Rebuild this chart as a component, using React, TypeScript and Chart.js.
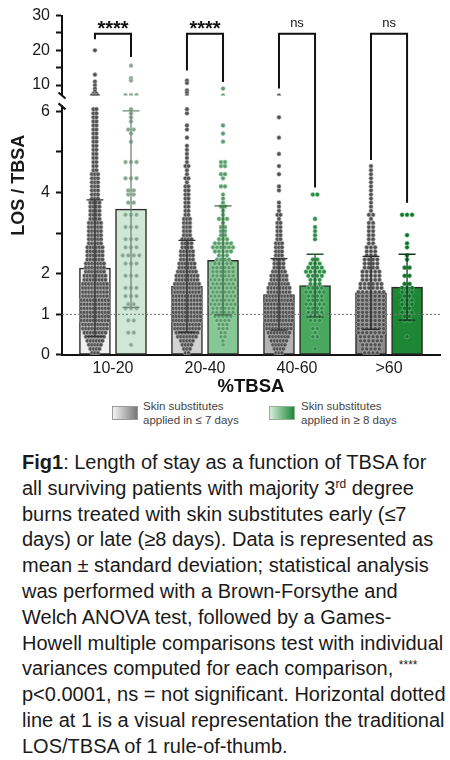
import React, { useEffect, useRef } from 'react';
import { Chart, registerables } from 'chart.js';

Chart.register(...registerables);

const FONT = '"Liberation Sans", Arial, Helvetica, sans-serif';

// ---------------- DATA ----------------
const categories = ['10-20', '20-40', '40-60', '>60'];
const seriesNames = ['Skin substitutes\napplied in \u2264 7 days', 'Skin substitutes\napplied in \u2265 8 days'];

const greyMeans = [2.14, 1.69, 1.49, 1.53];
const greySD = [1.68, 1.13, 0.88, 0.9];
const greenMeans = [3.59, 2.33, 1.71, 1.67];
const greenSD = [2.42, 1.34, 0.77, 0.81];

// individual points on the lower segment: number of points per 0.1-wide row (row i = value (i+0.5)/10)
const grey1020Counts = [
  3, 4, 5, 6, 7, 8, 9, 9, 10, 10,
  10, 10, 10, 10, 9, 9, 9, 9, 8, 8,
  7, 7, 7, 6, 6, 6, 6, 5, 5, 5,
  5, 5, 5, 4, 4, 4, 4, 4, 3, 3,
  3, 3, 3, 3, 3, 2, 2, 2, 2, 2,
  2, 2, 2, 2, 2, 2, 2, 2, 2, 2,
  2,
];
const grey2040Counts = [
  2, 3, 4, 5, 7, 8, 9, 9, 10, 10,
  10, 10, 10, 10, 10, 9, 9, 9, 8, 8,
  7, 6, 6, 5, 5, 5, 4, 4, 4, 3,
  3, 3, 3, 3, 2, 2, 2, 2, 2, 2,
  2, 2, 1, 2, 1, 1, 2, 1, 1, 1,
  1, 1, 0, 1, 0, 1, 1, 0, 0, 1,
  1,
];
const grey4060Counts = [
  3, 4, 5, 6, 7, 8, 9, 9, 10, 10,
  10, 10, 10, 9, 9, 8, 8, 7, 6, 6,
  5, 4, 4, 4, 3, 3, 3, 3, 2, 2,
  2, 2, 2, 1, 2, 1, 1, 1, 0, 0,
  1, 1, 0, 0, 1, 0, 1, 0, 0, 1,
  0, 0, 0, 1, 0, 0, 0, 0, 1, 0,
  0,
];
const grey60Counts = [
  4, 5, 5, 6, 6, 7, 7, 7, 7, 7,
  7, 7, 7, 7, 7, 7, 6, 6, 5, 5,
  5, 4, 4, 4, 3, 3, 3, 2, 2, 2,
  2, 2, 2, 1, 2, 1, 1, 1, 1, 1,
  1, 1, 1, 1, 1, 1, 1, 0, 0, 0,
  0, 0, 0, 0, 0, 0, 0, 0, 0, 0,
  0,
];
const green1020Counts = [
  0, 0, 1, 0, 0, 2, 0, 0, 2, 0,
  0, 3, 2, 0, 3, 0, 3, 0, 0, 3,
  0, 0, 3, 0, 4, 0, 3, 0, 3, 0,
  0, 3, 0, 0, 3, 0, 0, 2, 0, 2,
  2, 0, 0, 3, 0, 0, 0, 3, 0, 0,
  0, 0, 1, 0, 1, 2, 0, 1, 1, 1,
  1,
];
const green2040Counts = [
  0, 0, 1, 1, 2, 2, 3, 3, 4, 5,
  6, 6, 7, 6, 7, 6, 7, 6, 7, 6,
  6, 6, 5, 4, 3, 5, 6, 5, 3, 2,
  2, 2, 1, 3, 1, 1, 2, 1, 1, 1,
  0, 2, 0, 1, 2, 0, 2, 2, 0, 0,
  0, 0, 1, 0, 1, 0, 1, 0, 0, 0,
  0,
];
const green4060Counts = [
  0, 1, 0, 0, 2, 1, 2, 0, 3, 3,
  4, 4, 5, 4, 4, 5, 4, 3, 3, 4,
  5, 4, 3, 2, 0, 0, 0, 0, 1, 1,
  1, 1, 0, 1, 0, 0, 0, 0, 0, 2,
  0, 0, 0, 0, 0, 0, 0, 0, 0, 0,
  0, 0, 0, 0, 0, 0, 0, 0, 0, 0,
  0,
];
const green60Counts = [
  0, 0, 0, 0, 1, 0, 0, 0, 2, 2,
  3, 2, 3, 3, 2, 3, 3, 2, 0, 2,
  0, 2, 0, 1, 1, 0, 1, 1, 0, 1,
  0, 0, 0, 0, 3, 0, 0, 0, 0, 0,
  0, 0, 0, 0, 0, 0, 0, 0, 0, 0,
  0, 0, 0, 0, 0, 0, 0, 0, 0, 0,
  0,
];

// individual points on the upper segment (values)
const grey1020High = [20, 13, 11, 10, 9, 8.2, 7.5, 7.5, 7, 7, 7];
const green1020High = [15.6, 12, 11.3, 7.1, 7.1, 7.1];
const grey2040High = [11.3, 10.6, 8.5, 7.8, 7];
const green2040High = [9, 7];
const grey4060High = [7];
const green4060High: number[] = [];
const grey60High: number[] = [];
const green60High: number[] = [];

const lowTicks = [0, 1, 2, 3, 4, 5, 6];
const lowTickLabels = [0, 1, 2, 4, 6];
const highTicks = [10, 15, 20, 25, 30];
const highTickLabels = [10, 20, 30];

const sigLabels = ['****', '****', 'ns', 'ns'];
const bracketTop = 24.8;
const bracketLeftEnd = [23.2, 14.2, 9.0, 4.8];
const bracketRightEnd = [18.1, 10.9, 4.12, 3.75];
const refLineValue = 1;

const captionLines: React.ReactNode[] = [
  <><b>Fig1</b>: Length of stay as a function of TBSA for</>,
  <>all surviving patients with majority 3<sup style={{ fontSize: '0.6em', verticalAlign: '0.6em', lineHeight: 0 }}>rd</sup> degree</>,
  <>burns treated with skin substitutes early (&le;7</>,
  <>days) or late (&ge;8 days). Data is represented as</>,
  <>mean &plusmn; standard deviation; statistical analysis</>,
  <>was performed with a Brown-Forsythe and</>,
  <>Welch ANOVA test, followed by a Games-</>,
  <>Howell multiple comparisons test with individual</>,
  <>variances computed for each comparison, <sup style={{ fontSize: '0.6em', verticalAlign: '0.5em', lineHeight: 0 }}>****</sup></>,
  <>p&lt;0.0001, ns = not significant. Horizontal dotted</>,
  <>line at 1 is a visual representation the traditional</>,
  <>LOS/TBSA of 1 rule-of-thumb.</>,
];

// ---------------- STYLE ----------------
const X_MIN = -0.554;
const X_MAX = 3.554;
const SIDE = 0.196;
const PX_PER_GROUP = 92;
const greySpreadPx = [3, 3, 3, 4.2];
const greenSpreadPx = [5.5, 4, 4.5, 5];
const greyBarFill = ['#f0f0f0', '#d3d3d3', '#b3b3b3', '#8b8b8b'];
const greenBarFill = ['#cfe8d5', '#86c796', '#49a75e', '#1d8736'];
const greyPointFill = '#515151';
const greyPointEdge = '#b4b4b4';
const greenPointFill = ['#88a490', '#5a9c69', '#2e8846', '#146d2a'];
const greenPointEdge = ['#c3d8c8', '#a8d5b3', '#8acd9b', '#6ac281'];
const greyErrColor = ['#333333', '#333333', '#333333', '#2a2a2a'];
const greenErrColor = ['#6d8c75', '#3d6b48', '#28522f', '#17361f'];

type Pt = { x: number; y: number };

function swarmFromCounts(counts: number[], center: number, spread: number): Pt[] {
  const pts: Pt[] = [];
  counts.forEach((n, i) => {
    const v = (i + 0.5) / 10;
    for (let k = 0; k < n; k++) pts.push({ x: center + (k - (n - 1) / 2) * spread, y: v });
  });
  return pts;
}

function swarmFromValues(values: number[], center: number, spread: number): Pt[] {
  const rows = new Map<number, number>();
  values.forEach((v) => rows.set(v, (rows.get(v) || 0) + 1));
  const pts: Pt[] = [];
  rows.forEach((n, v) => {
    for (let k = 0; k < n; k++) pts.push({ x: center + (k - (n - 1) / 2) * spread, y: v });
  });
  return pts;
}

const overlayPlugin = {
  id: 'overlay',
  afterDatasetsDraw(chart: any) {
    const { ctx, scales } = chart;
    const xs = scales.x;
    const yl = scales.yLow;
    const yh = scales.yHigh;
    const yAt = (v: number) => (v > yl.max ? yh.getPixelForValue(v) : yl.getPixelForValue(v));
    ctx.save();
    const capHalf = 8.5;
    const err = (cx: number, m: number, sd: number, color: string) => {
      const px = xs.getPixelForValue(cx);
      const top = yl.getPixelForValue(m + sd);
      const bot = yl.getPixelForValue(Math.max(0, m - sd));
      ctx.strokeStyle = color;
      ctx.lineWidth = 1.3;
      ctx.beginPath();
      ctx.moveTo(px, top);
      ctx.lineTo(px, bot);
      ctx.moveTo(px - capHalf, top);
      ctx.lineTo(px + capHalf, top);
      ctx.moveTo(px - capHalf, bot);
      ctx.lineTo(px + capHalf, bot);
      ctx.stroke();
    };
    categories.forEach((_, i) => {
      err(i - SIDE, greyMeans[i], greySD[i], greyErrColor[i]);
      err(i + SIDE, greenMeans[i], greenSD[i], greenErrColor[i]);
    });

    // significance brackets
    ctx.strokeStyle = '#111';
    ctx.lineWidth = 2;
    ctx.lineJoin = 'miter';
    categories.forEach((_, i) => {
      const xl = xs.getPixelForValue(i - SIDE);
      const xr = xs.getPixelForValue(i + SIDE);
      const yt = yh.getPixelForValue(bracketTop);
      ctx.beginPath();
      ctx.moveTo(xl, yAt(bracketLeftEnd[i]));
      ctx.lineTo(xl, yt);
      ctx.lineTo(xr, yt);
      ctx.lineTo(xr, yAt(bracketRightEnd[i]));
      ctx.stroke();
      const label = sigLabels[i];
      ctx.fillStyle = '#111';
      ctx.textAlign = 'center';
      ctx.textBaseline = 'alphabetic';
      if (label === 'ns') {
        ctx.font = `13px ${FONT}`;
        ctx.fillText(label, (xl + xr) / 2, yt - 7);
      } else {
        ctx.font = `bold 20px ${FONT}`;
        ctx.fillText(label, (xl + xr) / 2, yt + 1);
      }
    });
    ctx.restore();
  },
  afterDraw(chart: any) {
    const { ctx, chartArea, scales } = chart;
    const yl = scales.yLow;
    const yh = scales.yHigh;
    ctx.save();
    // y title
    ctx.translate(19, (chartArea.top + chartArea.bottom) / 2);
    ctx.rotate(-Math.PI / 2);
    ctx.font = `bold 18px ${FONT}`;
    ctx.fillStyle = '#1a1a1a';
    ctx.textAlign = 'center';
    ctx.textBaseline = 'middle';
    ctx.fillText('LOS / TBSA', 0, 0);
    ctx.restore();
    // axis break marks
    ctx.save();
    ctx.strokeStyle = '#111';
    ctx.lineWidth = 2;
    const ax = chartArea.left;
    [yh.bottom, yl.top].forEach((y: number) => {
      ctx.beginPath();
      ctx.moveTo(ax - 3.5, y - 3);
      ctx.lineTo(ax + 3.5, y + 3);
      ctx.stroke();
    });
    ctx.restore();
  },
};

export default function App() {
  const ref = useRef<HTMLCanvasElement>(null);

  useEffect(() => {
    const canvas = ref.current;
    if (!canvas) return;

    const greyLow = [grey1020Counts, grey2040Counts, grey4060Counts, grey60Counts];
    const greenLow = [green1020Counts, green2040Counts, green4060Counts, green60Counts];
    const greyHigh = [grey1020High, grey2040High, grey4060High, grey60High];
    const greenHigh = [green1020High, green2040High, green4060High, green60High];

    const datasets: any[] = [];
    datasets.push({
      type: 'line',
      data: [{ x: X_MIN, y: refLineValue }, { x: X_MAX, y: refLineValue }],
      yAxisID: 'yLow',
      borderColor: '#777777',
      borderWidth: 1,
      borderDash: [2, 2],
      pointRadius: 0,
      order: 0,
    });
    categories.forEach((_, i) => {
      const gc = i - SIDE;
      const ec = i + SIDE;
      const gs = greySpreadPx[i] / PX_PER_GROUP;
      const es = greenSpreadPx[i] / PX_PER_GROUP;
      const greyStyle = {
        type: 'scatter',
        showLine: false,
        pointRadius: 2.1,
        pointBackgroundColor: greyPointFill,
        pointBorderColor: greyPointEdge,
        pointBorderWidth: 0.6,
        order: 2,
      };
      const greenStyle = {
        type: 'scatter',
        showLine: false,
        pointRadius: 2.1,
        pointBackgroundColor: greenPointFill[i],
        pointBorderColor: greenPointEdge[i],
        pointBorderWidth: 0.6,
        order: 2,
      };
      datasets.push({ ...greyStyle, data: swarmFromCounts(greyLow[i], gc, gs), yAxisID: 'yLow' });
      datasets.push({ ...greyStyle, data: swarmFromValues(greyHigh[i], gc, gs), yAxisID: 'yHigh' });
      datasets.push({ ...greenStyle, data: swarmFromCounts(greenLow[i], ec, es), yAxisID: 'yLow' });
      datasets.push({ ...greenStyle, data: swarmFromValues(greenHigh[i], ec, es), yAxisID: 'yHigh' });
    });
    datasets.push({
      type: 'bar',
      data: categories.map((_, i) => ({ x: i - SIDE, y: greyMeans[i] })),
      backgroundColor: greyBarFill,
      borderColor: '#2a2a2a',
      borderWidth: 1.5,
      borderSkipped: false,
      barThickness: 31,
      grouped: false,
      yAxisID: 'yLow',
      order: 10,
    });
    datasets.push({
      type: 'bar',
      data: categories.map((_, i) => ({ x: i + SIDE, y: greenMeans[i] })),
      backgroundColor: greenBarFill,
      borderColor: '#2a2a2a',
      borderWidth: 1.5,
      borderSkipped: false,
      barThickness: 31,
      grouped: false,
      yAxisID: 'yLow',
      order: 10,
    });

    const yCommon = (weight: number) => ({
      type: 'linear',
      position: 'left',
      stack: 'ybreak',
      stackWeight: weight,
      afterFit: (a: any) => {
        a.width = 40;
      },
    });
    const tickFont = { family: FONT, size: 16 };

    const chart = new Chart(canvas, {
      type: 'bar',
      data: { datasets },
      options: {
        responsive: false,
        animation: false,
        events: [],
        layout: { padding: { left: 22, right: 10, top: 11, bottom: 0 } },
        plugins: { legend: { display: false }, tooltip: { enabled: false } },
        scales: {
          x: {
            type: 'linear',
            offset: false,
            min: X_MIN,
            max: X_MAX,
            afterBuildTicks: (a: any) => {
              a.ticks = categories.map((_, i) => ({ value: i }));
            },
            ticks: {
              callback: (v: any) => categories[Math.round(Number(v))],
              font: tickFont,
              color: '#1a1a1a',
              padding: 4,
              maxRotation: 0,
              autoSkip: false,
            },
            grid: { display: false, drawTicks: false, offset: false },
            border: { display: true, color: '#111', width: 2 },
            title: {
              display: true,
              text: '%TBSA',
              font: { family: FONT, size: 18.5, weight: 'bold' },
              color: '#111',
              padding: { top: 0, bottom: 0 },
            },
            afterFit: (a: any) => {
              a.height = 43;
            },
          },
          yLow: {
            ...yCommon(252),
            min: 0,
            max: 6.12,
            afterBuildTicks: (a: any) => {
              a.ticks = lowTicks.map((v) => ({ value: v }));
            },
            ticks: {
              callback: (v: any) => (lowTickLabels.includes(Number(v)) ? String(v) : ''),
              font: tickFont,
              color: '#1a1a1a',
              padding: 6,
              autoSkip: false,
            },
            grid: { drawOnChartArea: false, drawTicks: true, tickLength: 6, tickColor: '#111', tickWidth: 2 },
            border: { display: true, color: '#111', width: 2 },
          },
          yGap: {
            ...yCommon(11),
            min: 0,
            max: 1,
            ticks: { display: false },
            grid: { display: false, drawTicks: false },
            border: { display: false },
          },
          yHigh: {
            ...yCommon(81),
            min: 7,
            max: 30,
            afterBuildTicks: (a: any) => {
              a.ticks = highTicks.map((v) => ({ value: v }));
            },
            ticks: {
              callback: (v: any) => (highTickLabels.includes(Number(v)) ? String(v) : ''),
              font: tickFont,
              color: '#1a1a1a',
              padding: 6,
              autoSkip: false,
            },
            grid: { drawOnChartArea: false, drawTicks: true, tickLength: 6, tickColor: '#111', tickWidth: 2 },
            border: { display: true, color: '#111', width: 2 },
          },
        },
      } as any,
      plugins: [overlayPlugin],
    });

    return () => chart.destroy();
  }, []);

  const legendText: React.CSSProperties = {
    position: 'absolute',
    font: `11.5px ${FONT}`,
    lineHeight: '14px',
    color: '#444',
    whiteSpace: 'pre',
  };

  return (
    <div style={{ position: 'absolute', left: 0, top: 0, width: 450, height: 760, background: '#fff', overflow: 'hidden' }}>
      <canvas ref={ref} width={450} height={398} style={{ display: 'block', width: 450, height: 398 }} />
      <div
        style={{
          position: 'absolute', left: 112, top: 406, width: 26, height: 14, boxSizing: 'border-box',
          border: '1px solid #9a9a9a', background: 'linear-gradient(to right, #f4f4f4, #767676)',
        }}
      />
      <div style={{ ...legendText, left: 143, top: 399 }}>{seriesNames[0]}</div>
      <div
        style={{
          position: 'absolute', left: 269, top: 406, width: 26, height: 14, boxSizing: 'border-box',
          border: '1px solid #8fb597', background: 'linear-gradient(to right, #d6eddb, #1d8736)',
        }}
      />
      <div style={{ ...legendText, left: 301, top: 399 }}>{seriesNames[1]}</div>
      <div
        style={{
          position: 'absolute', left: 22, top: 450, font: `20px ${FONT}`, lineHeight: '25.8px',
          color: '#1a1a1a', whiteSpace: 'nowrap',
        }}
      >
        {captionLines.map((l, i) => (
          <div key={i}>{l}</div>
        ))}
      </div>
    </div>
  );
}
